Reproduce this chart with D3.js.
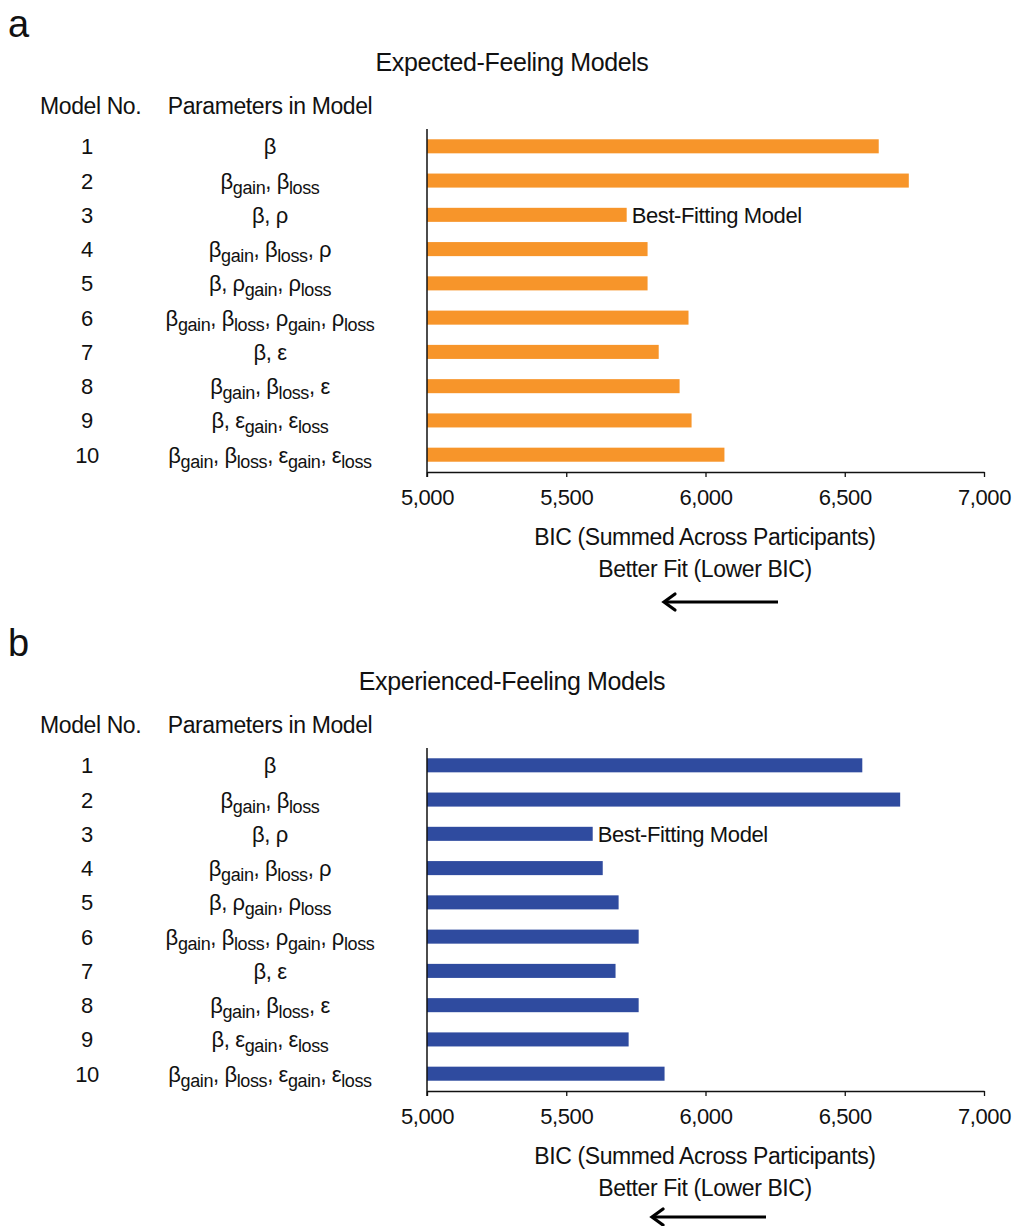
<!DOCTYPE html>
<html lang="en">
  <head>
    <meta charset="UTF-8" />
    <title>BIC model comparison</title>
    <style>
      body { margin: 0; background: #fff; }
      text { font-family: "Liberation Sans Narrow", "Liberation Sans", Arial, sans-serif; fill: #111; letter-spacing: -0.4px; }
    </style>
  </head>
  <body>
    <script src="https://d3js.org/d3.v7.min.js"></script>
    <script>
      const width = 1013
      const height = 1226

      // data
      const modelNo = [1, 2, 3, 4, 5, 6, 7, 8, 9, 10]
      const params = [
        "β",
        "β_gain, β_loss",
        "β, ρ",
        "β_gain, β_loss, ρ",
        "β, ρ_gain, ρ_loss",
        "β_gain, β_loss, ρ_gain, ρ_loss",
        "β, ε",
        "β_gain, β_loss, ε",
        "β, ε_gain, ε_loss",
        "β_gain, β_loss, ε_gain, ε_loss"
      ]
      const expectedBIC = [6622, 6730, 5717, 5792, 5792, 5939, 5832, 5907, 5950, 6068]
      const experiencedBIC = [6563, 6699, 5595, 5631, 5688, 5760, 5677, 5760, 5724, 5853]
      const xTicks = [5000, 5500, 6000, 6500, 7000]
      const bestModel = 3

      const svg = d3.select("body").append("svg")
        .attr("width", width)
        .attr("height", height)

      const x = d3.scaleLinear().domain([5000, 7000]).range([427, 984])
      const fmt = d3.format(",")

      function drawPanel(letter, title, values, color, top) {
        const g = svg.append("g").attr("transform", `translate(0,${top})`)

        g.append("text").attr("x", 8).attr("y", 37)
          .style("font-size", "38px").text(letter)
        g.append("text").attr("x", 512).attr("y", 71)
          .attr("text-anchor", "middle").style("font-size", "25px").text(title)
        g.append("text").attr("x", 40).attr("y", 114)
          .style("font-size", "23px").text("Model No.")
        g.append("text").attr("x", 270).attr("y", 114)
          .attr("text-anchor", "middle").style("font-size", "23px").text("Parameters in Model")

        const y = d3.scaleBand()
          .domain(modelNo)
          .range([129, 472])
          .paddingInner(0.59)
          .paddingOuter(0.3)

        // bars
        g.selectAll("rect.bar")
          .data(values)
          .join("rect")
          .attr("class", "bar")
          .attr("x", x(5000))
          .attr("y", (d, i) => y(modelNo[i]))
          .attr("width", d => x(d) - x(5000))
          .attr("height", y.bandwidth())
          .attr("fill", color)

        // model numbers
        g.selectAll("text.num")
          .data(modelNo)
          .join("text")
          .attr("class", "num")
          .attr("x", 87)
          .attr("y", d => y(d) + y.bandwidth() / 2 + 8)
          .attr("text-anchor", "middle")
          .style("font-size", "22px")
          .text(d => d)

        // parameter labels with subscripts
        g.selectAll("text.param")
          .data(params)
          .join("text")
          .attr("class", "param")
          .attr("x", 270)
          .attr("y", (d, i) => y(modelNo[i]) + y.bandwidth() / 2 + 8)
          .attr("text-anchor", "middle")
          .style("font-size", "22px")
          .each(function (d) {
            const t = d3.select(this)
            let shift = 0
            d.split(", ").forEach((p, k) => {
              const [sym, sub] = p.split("_")
              t.append("tspan").attr("dy", -shift).text((k > 0 ? ", " : "") + sym)
              shift = 0
              if (sub) {
                t.append("tspan").attr("dy", 5).style("font-size", "18px").text(sub)
                shift = 5
              }
            })
          })

        // best-fitting label
        const bi = modelNo.indexOf(bestModel)
        g.append("text")
          .attr("x", x(values[bi]) + 5)
          .attr("y", y(bestModel) + y.bandwidth() / 2 + 8)
          .style("font-size", "22px")
          .text("Best-Fitting Model")

        // x axis
        const axis = g.append("g")
          .attr("transform", "translate(0,472)")
          .call(d3.axisBottom(x).tickValues(xTicks).tickFormat(fmt).tickSizeInner(5).tickSizeOuter(0))
        axis.select(".domain").attr("stroke", "#111").attr("stroke-width", 1.3)
        axis.selectAll(".tick line").attr("stroke", "#111").attr("stroke-width", 1.3)
        axis.selectAll(".tick text")
          .attr("dy", 0).attr("y", 33)
          .style("font-size", "22px")
          .style("font-family", "'Liberation Sans Narrow', 'Liberation Sans', Arial, sans-serif")
          .style("letter-spacing", "-0.4px")
          .attr("fill", "#111")

        // y axis line
        g.append("line")
          .attr("x1", x(5000)).attr("x2", x(5000))
          .attr("y1", 129).attr("y2", 477)
          .attr("stroke", "#111").attr("stroke-width", 1.5)

        g.append("text").attr("x", 705).attr("y", 545)
          .attr("text-anchor", "middle").style("font-size", "23px")
          .text("BIC (Summed Across Participants)")
        g.append("text").attr("x", 705).attr("y", 577)
          .attr("text-anchor", "middle").style("font-size", "23px")
          .text("Better Fit (Lower BIC)")
      }

      drawPanel("a", "Expected-Feeling Models", expectedBIC, "#F7952A", 0)
      drawPanel("b", "Experienced-Feeling Models", experiencedBIC, "#2F4B9F", 619)

      // arrows pointing toward lower BIC
      function arrow(x1, x2, yy) {
        svg.append("line").attr("x1", x1 + 2).attr("x2", x2).attr("y1", yy).attr("y2", yy)
          .attr("stroke", "#000").attr("stroke-width", 3.2)
        svg.append("path")
          .attr("d", `M${x1 + 12},${yy - 8} L${x1 + 1},${yy} L${x1 + 12},${yy + 8}`)
          .attr("fill", "none").attr("stroke", "#000").attr("stroke-width", 3.2)
          .attr("stroke-linecap", "round").attr("stroke-linejoin", "miter")
      }
      arrow(663, 778, 602)
      arrow(651, 766, 1217)
    </script>
  </body>
</html>
